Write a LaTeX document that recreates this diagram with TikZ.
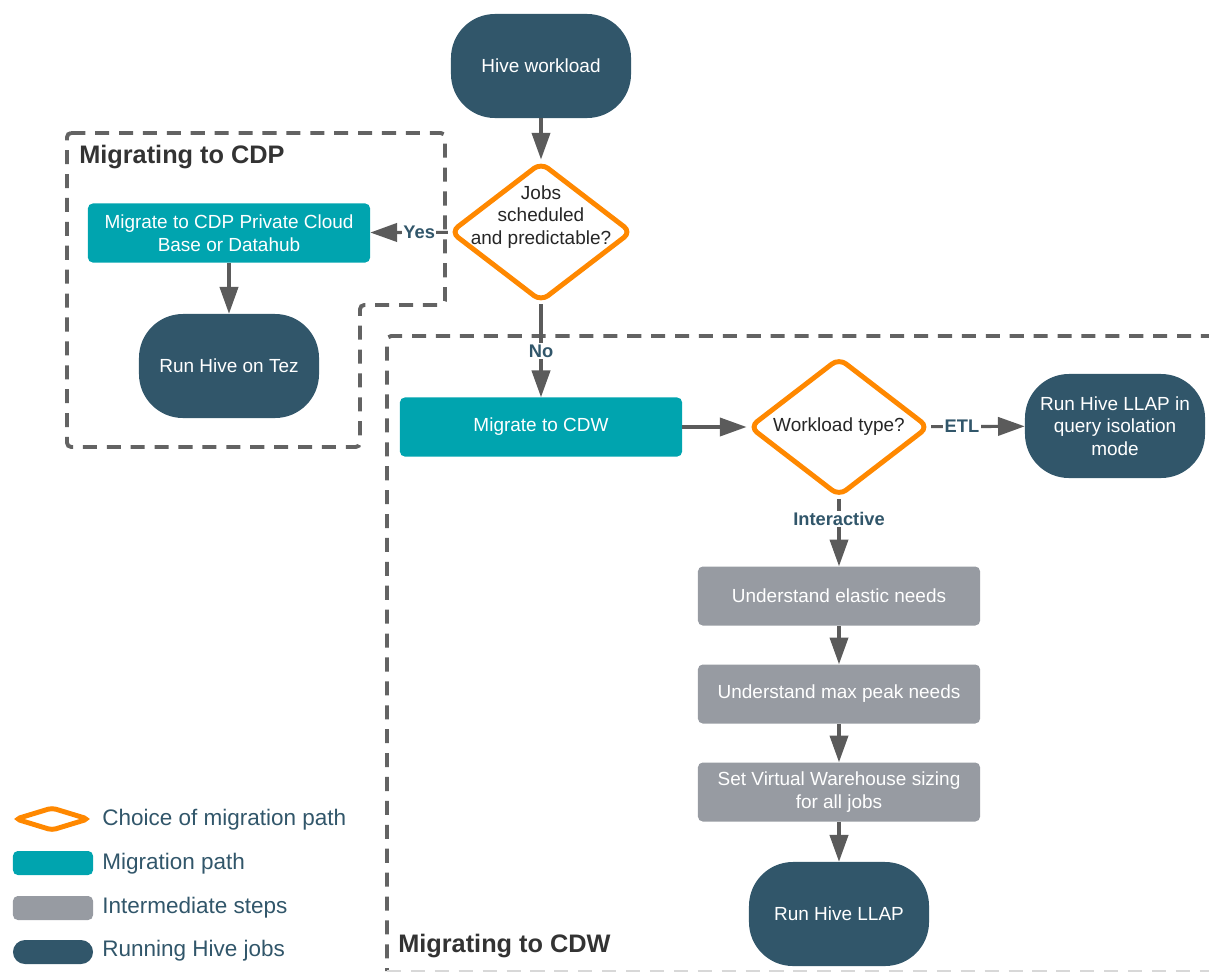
\documentclass[tikz,border=0pt]{standalone}
\usepackage{fontspec}
\setmainfont{Liberation Sans}
\usetikzlibrary{arrows.meta,shapes.geometric}

\definecolor{hivedark}{HTML}{31566A}
\definecolor{hiveteal}{HTML}{00A4AF}
\definecolor{hivegray}{HTML}{979BA2}
\definecolor{choiceorange}{HTML}{FF8800}
\definecolor{arrowgray}{HTML}{5B5B5B}
\definecolor{framegray}{HTML}{636363}
\definecolor{titlegray}{HTML}{333333}

\begin{document}
\begin{tikzpicture}[x=0.025cm,y=-0.025cm,
          font=\fontsize{13.5}{16}\selectfont,
          job/.style={fill=hivedark,text=white,rounded corners=1.1cm,minimum width=4.5cm,minimum height=2.6cm,align=center,inner sep=0pt},
          migr/.style={fill=hiveteal,text=white,rounded corners=0.12cm,minimum width=7.05cm,minimum height=1.475cm,align=center,inner sep=0pt},
          interm/.style={migr,fill=hivegray},
          choice/.style={diamond,draw=choiceorange,line width=3.5pt,fill=white,rounded corners=0.22cm,inner sep=0pt},
          question/.style={align=center,text=black!85},
          flow/.style={draw=arrowgray,line width=2.2pt,-{Triangle[length=19pt,width=13pt]}},
          answer/.style={font=\fontsize{13}{15}\selectfont\bfseries,text=hivedark,fill=white,inner sep=1pt},
          region/.style={draw=framegray,line width=2.8pt,dash pattern=on 10pt off 7pt,rounded corners=3pt},
          regiontitle/.style={font=\fontsize{18}{20}\selectfont\bfseries,text=titlegray,anchor=west,inner sep=0pt},
          key/.style={minimum width=2cm,minimum height=0.6cm,rounded corners=0.12cm,inner sep=0pt},
          legend/.style={font=\fontsize{16}{18}\selectfont,text=hivedark,anchor=west,inner sep=0pt}
        ]
        \useasboundingbox (0,0) rectangle (1209,973);

        %regions
        \draw[region] (67,133) -- (445,133) -- (445,305) -- (360,305) -- (360,447) -- (67,447) -- cycle;
        \draw[region] (1215,336) -- (387,336) -- (387,971);
        \draw[region,draw=framegray!25,line width=1.5pt] (387,971) -- (1215,971);
        \node[regiontitle] (cdptitle) at (79,157) {Migrating to CDP};
        \node[regiontitle] (cdwtitle) at (398,946) {Migrating to CDW};

        %main path
        \node[job] (hive) at (541,66) {Hive workload};
        \node[choice,minimum width=4.55cm,minimum height=3.5cm,
          label={[question,yshift=0.38cm]center:Jobs\\scheduled\\and predictable?}] (q1) at (541,232) {};
        \node[migr] (cdp) at (229,233) {Migrate to CDP Private Cloud\\Base or Datahub};
        \node[job] (tez) at (229,366) {Run Hive on Tez};
        \node[migr] (cdw) at (541,427) {Migrate to CDW};
        \node[choice,minimum width=4.5cm,minimum height=3.475cm,
          label={[question]center:Workload type?}] (q2) at (839,427) {};
        \node[job] (iso) at (1115,426) {Run Hive LLAP in\\query isolation\\mode};

        %sizing steps
        \node[interm] (elastic) at (839,596) {Understand elastic needs};
        \node[interm] (peak) at (839,694) {Understand max peak needs};
        \node[interm] (sizing) at (839,792) {Set Virtual Warehouse sizing\\for all jobs};
        \node[job] (llap) at (839,914) {Run Hive LLAP};

        \path[flow] (hive) -- (q1);
        \path[flow] (q1) -- node[answer,pos=0.37] (yes) {Yes} (cdp);
        \path[flow] (cdp) -- (tez);
        \path[flow] (q1) -- node[answer,pos=0.5] (no) {No} (cdw);
        \path[flow] (cdw) -- (q2);
        \path[flow] (q2) -- node[answer,pos=0.33] (etl) {ETL} (iso);
        \path[flow] (q2) -- node[answer,pos=0.3] (inter) {Interactive} (elastic);
        \path[flow] (elastic) -- (peak);
        \path[flow] (peak) -- (sizing);
        \path[flow] (sizing) -- (llap);

        %legend
        \node[diamond,draw=choiceorange,line width=3.5pt,minimum width=1.85cm,minimum height=0.6cm,inner sep=0pt,rounded corners=0.1cm] (keychoice) at (52,819) {};
        \node[key,fill=hiveteal] (keymigr) at (53,863) {};
        \node[key,fill=hivegray] (keyinterm) at (53,908) {};
        \node[key,fill=hivedark,rounded corners=0.3cm] (keyjob) at (53,952) {};
        \node[legend] at (102,820) {Choice of migration path};
        \node[legend] at (102,864) {Migration path};
        \node[legend] at (102,908) {Intermediate steps};
        \node[legend] at (102,951) {Running Hive jobs};
\end{tikzpicture}
\end{document}
